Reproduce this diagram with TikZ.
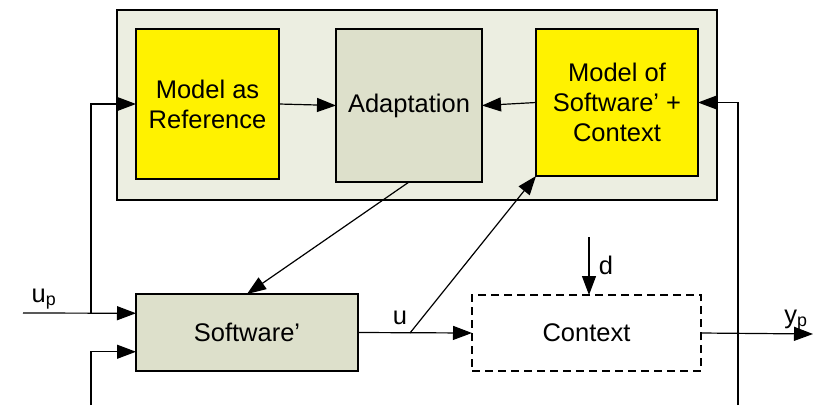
\documentclass[tikz,border=0pt]{standalone}
\usepackage{xcolor}
\usepackage{fontspec}
\setmainfont{Liberation Sans}
\usepackage{tikz}
\usetikzlibrary{calc}
\usetikzlibrary{arrows.meta}
\usetikzlibrary{positioning}
\definecolor{sage}{RGB}{221,224,203}
\definecolor{pale}{RGB}{236,238,225}

\begin{document}
\begin{tikzpicture}[x=1pt,y=-1pt,
	line width=1.2pt,
  block/.style={rectangle,draw,inner sep=0pt,outer sep=0pt,align=center},
  sig/.style={-{Triangle[length=19pt,width=14pt]}},
	font=\fontsize{25.5}{30}\selectfont]
  \useasboundingbox (0,0) rectangle (814,405);

  \node[block,fill=pale,minimum width=600pt,minimum height=190pt] (adaptive) at (417,105) {};
  \node[block,fill=yellow,minimum width=143pt,minimum height=150pt] (ref) at (207.5,104) {Model as\\Reference};
  \node[block,fill=sage,minimum width=146pt,minimum height=153pt] (adapt) at (409,105.5) {Adaptation};
  \node[block,fill=yellow,minimum width=162pt,minimum height=147pt] (msc) at (617,102.5) {Model of\\Software' +\\Context};
  \node[block,fill=sage,minimum width=222pt,minimum height=77pt] (sw) at (247,332.5) {Software'};
  \node[block,dashed,dash pattern=on 8pt off 5pt,minimum width=229pt,minimum height=76pt] (ctx) at (586.5,333) {Context};

  \coordinate (upin) at (23,313);
  \coordinate (upbr) at (91,313);
  \coordinate (fbin) at (91,405);
  \coordinate (ubr) at (410,333);
  \coordinate (din) at (589,237);
  \coordinate (ypout) at (813,334);
  \coordinate (fbr) at (738,405);

  \draw[sig] (ref.east) -- (adapt.west);
  \draw[sig] (msc.west) -- (adapt.east);
  \draw[sig] (upin) -- ($(sw.north west)!0.25!(sw.south west)$);
  \draw[sig] (upbr) |- (ref.west);
  \draw[sig] (fbin) |- ($(sw.north west)!0.75!(sw.south west)$);
  \draw[sig] (adapt.south) -- (sw.north);
  \draw[sig] (sw.east) -- (ctx.west);
  \draw[sig] (ubr) -- (msc.south west);
  \draw[sig] (din) -- (din |- ctx.north);
  \draw[sig] (ctx.east) -- (ypout);
  \draw[sig] (fbr) |- (msc.east);

  \node (uplabel) at (44,299) {u\textsubscript{p}};
  \node (ulabel) at (400,318) {u};
  \node (dlabel) at (606,265) {d};
  \node (yplabel) at (796,320) {y\textsubscript{p}};

\end{tikzpicture}
\end{document}
